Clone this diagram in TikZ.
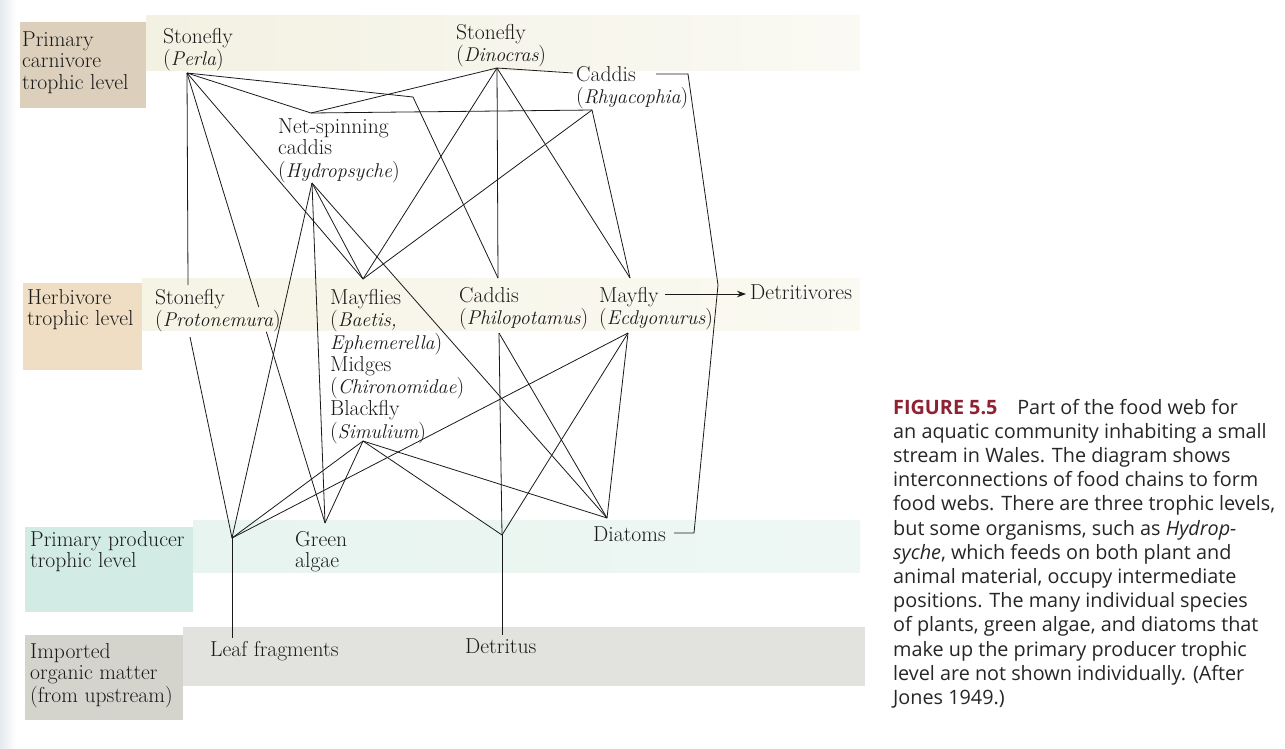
\documentclass[tikz,border=0pt]{standalone}
\usepackage{fontspec}
\newfontfamily\capfont{Open Sans}
\usetikzlibrary{calc,arrows.meta}
\definecolor{ink}{HTML}{1A1A1A}
\definecolor{capink}{HTML}{262626}
\definecolor{figred}{HTML}{8E2233}
\definecolor{carnbox}{HTML}{DCCFBB}
\definecolor{carnband}{HTML}{F3F1E2}
\definecolor{herbbox}{HTML}{EFDEC4}
\definecolor{herbband}{HTML}{F6F4E5}
\definecolor{prodbox}{HTML}{D3EBE5}
\definecolor{prodband}{HTML}{E7F4EF}
\definecolor{impbox}{HTML}{D4D4CD}
\definecolor{impband}{HTML}{E2E2DE}
\definecolor{edgeshade}{HTML}{E4EAEE}
\newcommand{\stk}[1]{\begin{tabular}[t]{@{}l@{}}#1\end{tabular}}
\newcommand{\spn}[1]{{\fontsize{19.9}{21.7}\selectfont\itshape #1}}
\begin{document}
\begin{tikzpicture}[x=1pt,y=-1pt,
  lbl/.style={font=\fontsize{21.6}{21.7}\selectfont, inner sep=0pt, anchor=base west, text=ink},
  capt/.style={font=\capfont\fontsize{19.8}{24.2}\selectfont, inner sep=0pt, anchor=base west, text=capink},
  web/.style={draw=ink, line width=0.8pt},
  bandbox/.style={draw=none}]
\useasboundingbox (0,0) rectangle (1285,748);
\fill[white] (0,0) rectangle (1285,748);
\shade[left color=edgeshade, right color=white] (0,0) rectangle (16,748);
% bands
\shade[bandbox, left color=carnband, right color=carnband!40!white] (146,15) rectangle (860,70);
\fill[carnbox] (20,22) rectangle (146,108);
\shade[bandbox, left color=herbband, right color=herbband!50!white] (142,278) rectangle (860,330);
\fill[herbbox] (23,283) rectangle (142,370);
\shade[bandbox, left color=prodband, right color=prodband!70!white] (193,520) rectangle (860,572);
\fill[prodbox] (25,527) rectangle (193,612);
\fill[impband] (183,627) rectangle (865,686);
\fill[impbox] (25,635) rectangle (183,720);

% junction coordinates
\coordinate (P) at (187,73);
\coordinate (Ht) at (311,113);
\coordinate (Hb) at (312,183);
\coordinate (D) at (497,68);
\coordinate (Rc) at (573,73);
\coordinate (R) at (592,110);
\coordinate (K) at (413,97);
\coordinate (Mt) at (363,279);
\coordinate (Mb) at (363,441);
\coordinate (Pht) at (498,278);
\coordinate (Phb) at (499,333);
\coordinate (Et) at (630,278);
\coordinate (Eb) at (628,333);
\coordinate (Prt) at (188,285);
\coordinate (Prb) at (190,337);
\coordinate (L) at (232,538);
\coordinate (G) at (325,523);
\coordinate (Dt) at (502,535);
\coordinate (Di) at (607,518);
\coordinate (Rs) at (656,74);
\coordinate (Rr) at (688,74);
\coordinate (Bend) at (718,285);
\coordinate (Dr1) at (694,533);
\coordinate (Dr2) at (674,533);
\coordinate (Ma) at (665,294);

% level labels
\node[lbl] (carn) at (22,46) {\stk{Primary\\carnivore\\trophic level}};
\node[lbl] (herb) at (27,304) {\stk{Herbivore\\trophic level}};
\node[lbl] (prod) at (30,546) {\stk{Primary producer\\trophic level}};
\node[lbl] (imp) at (30,658) {\stk{Imported\\organic matter\\(from upstream)}};

% organisms
\node[lbl] (perla) at (163,43) {\stk{Stonefly\\(\spn{Perla})}};
\node[lbl] (hydro) at (278,133) {\stk{Net-spinning\\caddis\\(\spn{Hydropsyche})}};
\node[lbl] (dino) at (456,39) {\stk{Stonefly\\(\spn{Dinocras})}};
\node[lbl] (rhya) at (576,81) {\stk{Caddis\\(\spn{Rhyacophia})}};
\node[lbl] (proto) at (155,304) {\stk{Stonefly\\(\spn{Protonemura})}};
\node[lbl] (mayf) at (330,304) {\stk{Mayflies\\(\spn{Baetis,}\\\spn{Ephemerella})\\Midges\\(\spn{Chironomidae})\\Blackfly\\(\spn{Simulium})}};
\node[lbl] (philo) at (459,302) {\stk{Caddis\\(\spn{Philopotamus})}};
\node[lbl] (ecdy) at (599,302) {\stk{Mayfly\\(\spn{Ecdyonurus})}};
\node[lbl] (detv) at (750,299) {Detritivores};
\node[lbl] (green) at (295,546) {\stk{Green\\algae}};
\node[lbl] (diat) at (593,541) {Diatoms};
\node[lbl] (leaf) at (210,656) {Leaf fragments};
\node[lbl] (detr) at (465,653) {Detritus};

% connectors
\draw[web] (P) -- (Ht);
\draw[web] (P) -- (K) -- (Pht);
\draw[web] (P) -- (Prt);
\draw[web] (P) -- ($(P)!0.52!(G)$);
\draw[web] ($(P)!0.575!(G)$) -- (G);
\draw[web] (P) -- (Mt);
\draw[web] (D) -- (Ht);
\draw[web] (D) -- (Rc);
\draw[web] (D) -- (Pht);
\draw[web] (D) -- (Mt);
\draw[web] (D) -- (Et);
\draw[web] (R) -- (Ht);
\draw[web] (R) -- (Mt);
\draw[web] (R) -- (Et);
\draw[web] (Rs) -- (Rr) -- (Bend) -- (Dr1) -- (Dr2);
\draw[web] (Hb) -- (L);
\draw[web] (Hb) -- (G);
\draw[web] (Hb) -- (Mt);
\draw[web] (Hb) -- (Di);
\draw[web] (Mb) -- (L);
\draw[web] (Mb) -- (G);
\draw[web] (Mb) -- (Di);
\draw[web] (Mb) -- (Dt);
\draw[web] (Phb) -- (Dt);
\draw[web] (Phb) -- (Di);
\draw[web] (Eb) -- (L);
\draw[web] (Eb) -- (Dt);
\draw[web] (Eb) -- (Di);
\draw[web] (Prb) -- (L);
\draw[web] (L) -- ($(L |- leaf.north)+(0,-3)$);
\draw[web] (Dt) -- ($(Dt |- detr.north)+(0,-3)$);
\draw[web, -{Stealth[length=9pt,width=6.5pt]}] (Ma) -- ($(Ma -| detv.west)+(-4,0)$);

% caption
\node[capt] (cap) at (893,414) {\stk{\textcolor{figred}{\textbf{FIGURE 5.5}}\quad Part of the food web for\\
an aquatic community inhabiting a small\\
stream in Wales. The diagram shows\\
interconnections of food chains to form\\
food webs. There are three trophic levels,\\
but some organisms, such as \textit{Hydrop-}\\
\textit{syche}, which feeds on both plant and\\
animal material, occupy intermediate\\
positions. The many individual species\\
of plants, green algae, and diatoms that\\
make up the primary producer trophic\\
level are not shown individually. (After\\
Jones 1949.)}};
\end{tikzpicture}
\end{document}
